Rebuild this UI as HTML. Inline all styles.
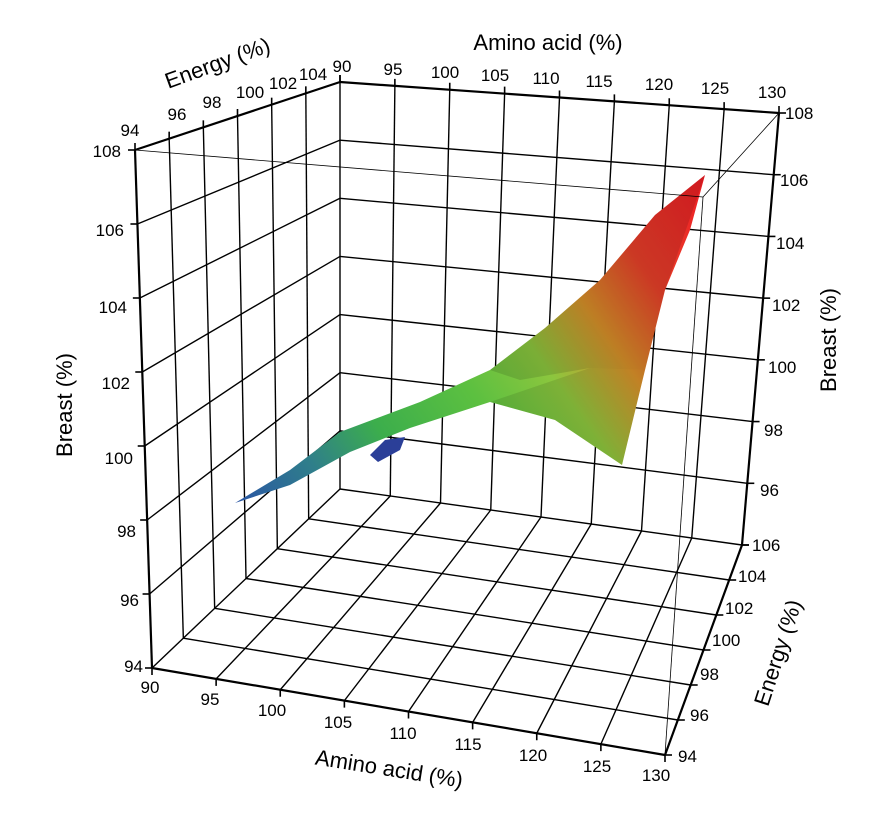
<!DOCTYPE html>
<html><head><meta charset="utf-8"><style>
html,body{margin:0;padding:0;background:#fff;}
svg{display:block;font-family:"Liberation Sans Narrow","Liberation Sans",sans-serif;}
</style></head><body>
<svg id="s" width="896" height="814" viewBox="0 0 896 814" xmlns="http://www.w3.org/2000/svg">
<defs>
<linearGradient id="g" gradientUnits="userSpaceOnUse" x1="705" y1="175" x2="235" y2="503">
<stop offset="0" stop-color="#ee1c24"/>
<stop offset="0.18" stop-color="#e8402a"/>
<stop offset="0.3" stop-color="#d8902a"/>
<stop offset="0.42" stop-color="#8cc63e"/>
<stop offset="0.55" stop-color="#5cc040"/>
<stop offset="0.72" stop-color="#3cae4c"/>
<stop offset="0.85" stop-color="#2f7f8a"/>
<stop offset="1" stop-color="#2a55a5"/>
</linearGradient>
</defs>
<g id="grid" stroke="#000" fill="none"></g>
<g id="surf">
<polygon points="370,455 385,440 405,437 400,450 378,462" fill="#2b3f98"/>
<polygon fill="url(#g)" points="235,503 290,470 340,432 420,402 490,370 545,328 600,280 655,215 705,175 690,230 665,290 645,370 622,465 555,420 490,402 410,428 350,452 290,485"/>
<polygon fill="#000" opacity="0.12" points="490,370 545,328 600,280 655,215 705,175 665,290 645,370 590,368 520,380"/>
<polygon fill="#000" opacity="0.1" points="490,402 555,420 622,465 645,370 590,368"/>
</g>
<g id="edges" stroke="#000" fill="none"></g>
<g font-size="17" fill="#000" text-anchor="end">
<text x="121" y="157">108</text><text x="124" y="236">106</text><text x="127" y="313">104</text><text x="130" y="389">102</text><text x="133" y="464">100</text><text x="136" y="537">98</text><text x="139" y="606">96</text><text x="143" y="672">94</text>
</g>
<g font-size="17" fill="#000">
<text x="785" y="119">108</text><text x="780" y="186">106</text><text x="776" y="249">104</text><text x="772" y="311">102</text><text x="768" y="373">100</text><text x="764" y="436">98</text><text x="760" y="496">96</text>
<text x="752" y="551">106</text><text x="738" y="582">104</text><text x="725" y="614">102</text><text x="712" y="646">100</text><text x="700" y="680">98</text><text x="690" y="721">96</text><text x="678" y="762">94</text>
</g>
<g font-size="17" fill="#000" text-anchor="middle">
<text x="150" y="693">90</text><text x="210" y="705">95</text><text x="272" y="716">100</text><text x="338" y="728">105</text><text x="403" y="739">110</text><text x="468" y="750">115</text><text x="533" y="761">120</text><text x="597" y="772">125</text><text x="656" y="781">130</text>
<text x="342" y="72">90</text><text x="393" y="75">95</text><text x="445" y="78">100</text><text x="495" y="81">105</text><text x="546" y="84">110</text><text x="599" y="87">115</text><text x="659" y="90">120</text><text x="715" y="94">125</text><text x="772" y="98">130</text>
<text x="130" y="136">94</text><text x="177" y="120">96</text><text x="212" y="108">98</text><text x="250" y="98">100</text><text x="283" y="89">102</text><text x="313" y="80">104</text>
</g>
<g font-size="22" fill="#000" text-anchor="middle">
<text x="548" y="50">Amino acid (%)</text>
<text transform="translate(220,70) rotate(-20)">Energy (%)</text>
<text transform="translate(72,405) rotate(-90)">Breast (%)</text>
<text transform="translate(836,340) rotate(-90)">Breast (%)</text>
<text transform="translate(388,776) rotate(9)">Amino acid (%)</text>
<text transform="translate(785,655) rotate(-72)">Energy (%)</text>
</g>
</svg>
<script>
var A=[152,668],B=[665,755],C=[742,545],D=[340,489],A2=[135,150],B2=[703,197],C2=[779,113],D2=[340,82];
function bl(p00,p10,p01,p11,u,v){return [p00[0]*(1-u)*(1-v)+p10[0]*u*(1-v)+p01[0]*(1-u)*v+p11[0]*u*v,p00[1]*(1-u)*(1-v)+p10[1]*u*(1-v)+p01[1]*(1-u)*v+p11[1]*u*v];}
var g=document.getElementById('grid'),e=document.getElementById('edges'),NS="http://www.w3.org/2000/svg";
function ln(par,p,q,w){var l=document.createElementNS(NS,'line');l.setAttribute('x1',p[0]);l.setAttribute('y1',p[1]);l.setAttribute('x2',q[0]);l.setAttribute('y2',q[1]);l.setAttribute('stroke-width',w);par.appendChild(l);}
var W=1.4;
for(var i=1;i<8;i++){var u=i/8;ln(g,bl(A,B,D,C,u,0),bl(A,B,D,C,u,1),W);}
for(var j=1;j<6;j++){var v=j/6;ln(g,bl(A,B,D,C,0,v),bl(A,B,D,C,1,v),W);}
for(var i=1;i<8;i++){var u=i/8;ln(g,bl(D,C,D2,C2,u,0),bl(D,C,D2,C2,u,1),W);}
for(var j=1;j<7;j++){var v=j/7;ln(g,bl(D,C,D2,C2,0,v),bl(D,C,D2,C2,1,v),W);}
for(var i=1;i<6;i++){var u=i/6;ln(g,bl(A,D,A2,D2,u,0),bl(A,D,A2,D2,u,1),W);}
for(var j=1;j<7;j++){var v=j/7;ln(g,bl(A,D,A2,D2,0,v),bl(A,D,A2,D2,1,v),W);}
ln(g,D,C,W);ln(g,D,D2,W);
ln(e,A,B,2.2);ln(e,B,C,2.2);ln(e,A,D,1.4);ln(e,A,A2,2.2);ln(e,C,C2,2.2);ln(e,A2,D2,2.2);ln(e,D2,C2,2.2);
ln(e,A2,B2,0.8);ln(e,B2,C2,0.8);ln(e,B,B2,0.8);
for(var j=0;j<=7;j++){var v=j/7;var p=bl(A,D,A2,D2,0,v);ln(e,p,[p[0]-7,p[1]],1.6);var q=bl(D,C,D2,C2,1,v);ln(e,q,[q[0]+7,q[1]],1.6);}
for(var i=0;i<=8;i++){var u=i/8;var p=bl(A,B,D,C,u,0);ln(e,p,[p[0],p[1]+7],1.6);var q=bl(D,C,D2,C2,u,1);ln(e,q,[q[0],q[1]-7],1.6);}
for(var j=0;j<=6;j++){var v=j/6;var p=bl(A,B,D,C,1,v);ln(e,p,[p[0]+7,p[1]],1.6);var q=bl(A,D,A2,D2,v,1);ln(e,q,[q[0],q[1]-7],1.6);}
</script>
</body></html>
